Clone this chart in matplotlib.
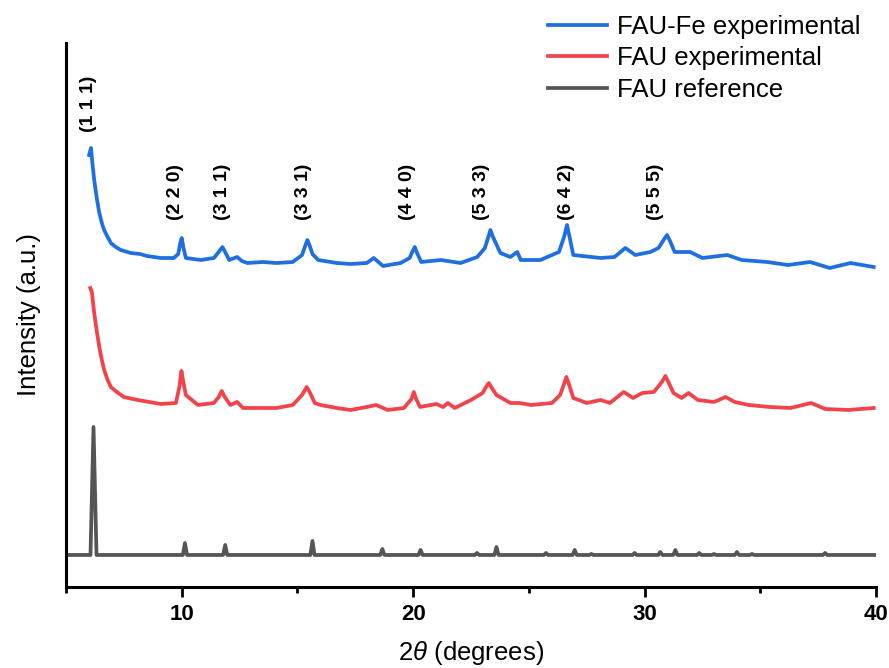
import numpy as np
import matplotlib
matplotlib.use("Agg")
import matplotlib.pyplot as plt
from matplotlib.ticker import MultipleLocator, NullLocator

plt.rcParams['font.family'] = ['Liberation Sans', 'DejaVu Sans']
plt.rcParams['mathtext.fontset'] = 'custom'
plt.rcParams['mathtext.it'] = 'Liberation Sans:italic'
plt.rcParams['mathtext.rm'] = 'Liberation Sans'

# FAU-Fe experimental (stacked, arbitrary units)
fe_x = [6.0, 6.08, 6.15, 6.22, 6.33, 6.44, 6.55, 6.65, 6.8, 6.94, 7.15, 7.37, 7.8, 8.2,
        8.5, 9.1, 9.66, 9.85, 9.93, 10.0, 10.07, 10.18, 10.83, 11.39, 11.6, 11.76,
        11.9, 12.05, 12.4, 12.6, 12.84, 13.5, 14.1, 14.8, 15.2, 15.35, 15.43, 15.52,
        15.65, 15.9, 16.7, 17.3, 18.0, 18.3, 18.7, 19.46, 19.85, 19.98, 20.07, 20.17,
        20.35, 21.2, 22.05, 22.77, 23.1, 23.25, 23.34, 23.45, 23.77, 24.2, 24.5, 24.65,
        25.5, 26.3, 26.52, 26.65, 26.76, 26.92, 28.1, 28.7, 29.17, 29.6, 30.25, 30.6,
        30.85, 30.97, 31.1, 31.3, 31.97, 32.5, 33.57, 34.2, 35.3, 36.2, 37.15, 38.0,
        38.9, 39.9]
fe_y = [432, 439, 422, 407, 389, 374, 364, 357, 350, 344, 340, 337, 334, 333,
        331, 329, 329, 333, 343, 349, 340, 329, 327, 329, 335, 340,
        334, 327, 330, 326, 324, 325, 324, 325, 332, 342, 347, 342,
        333, 327, 324, 323, 324, 329, 321, 324, 329, 336, 340, 334,
        325, 327, 324, 330, 339, 350, 357, 350, 334, 330, 335, 327,
        327, 335, 350, 362, 350, 332, 329, 330, 339, 332, 335, 339,
        348, 352, 346, 335, 335, 329, 332, 327, 325, 322, 325, 319,
        324, 320]

# FAU experimental
fau_x = [6.05, 6.12, 6.22, 6.33, 6.44, 6.55, 6.65, 6.8, 6.94, 7.2, 7.5, 8.1, 9.1, 9.75,
         9.9, 9.99, 10.07, 10.18, 10.7, 11.39, 11.6, 11.73, 11.86, 12.1, 12.4, 12.65,
         14.1, 14.8, 15.2, 15.4, 15.55, 15.75, 16.0, 16.7, 17.3, 18.0, 18.4, 18.9,
         19.6, 19.93, 20.03, 20.13, 20.3, 21.0, 21.3, 21.5, 21.8, 22.5, 23.0, 23.15,
         23.27, 23.4, 23.6, 24.2, 24.6, 25.1, 26.0, 26.35, 26.52, 26.62, 26.73, 26.92,
         27.5, 28.1, 28.5, 29.1, 29.5, 29.9, 30.4, 30.75, 30.9, 31.05, 31.25, 31.6,
         31.9, 32.3, 33.0, 33.5, 33.9, 34.5, 35.4, 36.3, 37.2, 37.8, 38.8, 39.9]
fau_y = [299, 295, 274, 256, 240, 227, 217, 207, 200, 195, 190, 187, 183, 184,
         200, 216, 205, 192, 182, 184, 190, 196, 190, 182, 185, 179,
         179, 182, 192, 200, 194, 184, 182, 179, 177, 180, 182, 177,
         179, 188, 195, 188, 180, 183, 180, 184, 179, 187, 194, 200,
         204, 199, 192, 184, 184, 182, 184, 192, 203, 210, 203, 189,
         184, 187, 184, 195, 189, 194, 195, 205, 211, 204, 194, 189,
         194, 187, 185, 190, 185, 182, 180, 179, 184, 178, 177, 179]

# FAU reference: peak positions and heights above its baseline
ref_base = 32
ref_pos = [6.19, 10.14, 11.88, 15.65, 18.67, 20.32, 22.76, 23.6, 25.74, 26.98, 27.7,
           29.57, 30.68, 31.33, 32.36, 33.0, 33.99, 34.64, 37.8]
ref_h = [128, 12, 10, 14, 6, 5, 2, 8, 2, 5, 1, 2, 3, 5, 2, 1, 3, 1, 2]

# peak labels
hkl = ['(1 1 1)', '(2 2 0)', '(3 1 1)', '(3 3 1)', '(4 4 0)', '(5 3 3)', '(6 4 2)', '(5 5 5)']
hkl_x = [5.99, 9.75, 11.76, 15.26, 19.76, 22.95, 26.62, 30.46]
hkl_y = [483, 395, 395, 395, 395, 395, 395, 395]

ref_x = [5.0]
ref_y = [ref_base]
for p, h in zip(ref_pos, ref_h):
    w = 0.13 if h > 50 else 0.09
    ref_x += [p - w, p, p + w]
    ref_y += [ref_base, ref_base + h, ref_base]
ref_x.append(40.0)
ref_y.append(ref_base)

fig = plt.figure(figsize=(8.89, 6.68), dpi=100)
ax = fig.add_axes([0.0742, 0.1213, 0.9112, 0.8143])

lw = 2.7
ax.plot(fe_x, fe_y, color='#1f6fe0', lw=lw, label='FAU-Fe experimental')
ax.plot(fau_x, fau_y, color='#f2434a', lw=lw, label='FAU experimental')
ax.plot(ref_x, ref_y, color='#555555', lw=lw, label='FAU reference')

for t, x, y in zip(hkl, hkl_x, hkl_y):
    ax.text(x, y, t, rotation=90, ha='center', va='center',
            fontsize=14, fontweight='bold')

ax.set_xlim(5, 40)
ax.set_ylim(0, 544)
ax.xaxis.set_major_locator(MultipleLocator(10))
ax.xaxis.set_minor_locator(MultipleLocator(5))
ax.yaxis.set_major_locator(NullLocator())
ax.tick_params(axis='x', which='major', length=7, width=2, pad=5, labelsize=16)
ax.tick_params(axis='x', which='minor', length=4, width=2)
for lab in ax.get_xticklabels():
    lab.set_fontweight('bold')

for s in ['top', 'right']:
    ax.spines[s].set_visible(False)
for s in ['left', 'bottom']:
    ax.spines[s].set_linewidth(2.2)

ax.set_xlabel(r'2$\theta$ (degrees)', fontsize=18.5, labelpad=10)
ax.set_ylabel('Intensity (a.u.)', fontsize=18.5, labelpad=18)

fig.legend(loc='upper left', bbox_to_anchor=(0.596, 1.005), frameon=False,
           fontsize=18.5, handlelength=2.3, handletextpad=0.4, labelspacing=0.3,
           borderpad=0.2)

fig.savefig('out.png', dpi=100)
